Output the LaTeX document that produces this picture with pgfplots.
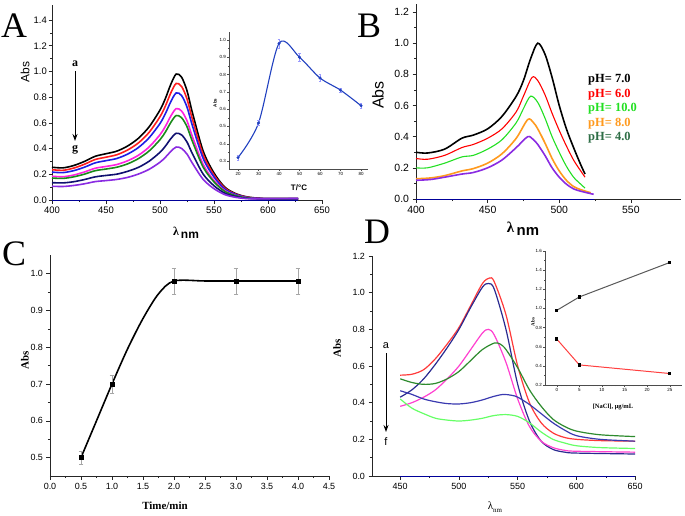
\documentclass[border=0pt]{standalone}
\usepackage{fontspec}
\setmainfont{Liberation Sans}
\newfontfamily\tnr{Liberation Serif}
\usepackage{pgfplots}
\pgfplotsset{compat=1.18}
\usetikzlibrary{arrows.meta}
\definecolor{aRed}{HTML}{FF1E1E}
\definecolor{aBlue}{HTML}{1E1EE6}
\definecolor{aMag}{HTML}{FF20E0}
\definecolor{aGreen}{HTML}{1A8A1A}
\definecolor{aNavy}{HTML}{101070}
\definecolor{aPurp}{HTML}{8A2BE2}
\definecolor{bGreen}{HTML}{22E022}
\definecolor{bOrange}{HTML}{FF9A1E}
\definecolor{bPurp}{HTML}{8A2BE2}
\definecolor{bDkGreen}{HTML}{2E6E46}
\definecolor{dRed}{HTML}{FF3A3A}
\definecolor{dNavy}{HTML}{2A2A90}
\definecolor{dMag}{HTML}{FF40D0}
\definecolor{dGreen}{HTML}{2E8B2E}
\definecolor{dBlue}{HTML}{3A3AB0}
\definecolor{dLGreen}{HTML}{66FF66}
\definecolor{inBlue}{HTML}{2040C0}
\pgfplotsset{
  orig/.style={scale only axis, anchor=south west,
    axis x line*=bottom, axis y line*=left, tick align=outside,
    axis line style={line width=0.8pt, black!85},
    every tick/.style={black!85, line width=0.6pt},
    major tick length=3.5bp, minor tick length=2bp,
    /pgf/number format/assume math mode=true, clip=false},
  onedec/.style={yticklabel style={/pgf/number format/fixed, /pgf/number format/fixed zerofill, /pgf/number format/precision=1}},
  onedecx/.style={xticklabel style={/pgf/number format/fixed, /pgf/number format/fixed zerofill, /pgf/number format/precision=1}},
}
\begin{document}
\begin{tikzpicture}
\path[use as bounding box, fill=white] (0,0) rectangle (685bp,-516bp);

% ---------------- Panel A ----------------
\begin{axis}[orig, at={(52bp,-200bp)}, width=270bp, height=195.4bp,
  xmin=400, xmax=650, ymin=0, ymax=1.52,
  xtick={400,450,...,650}, ytick={0,0.2,...,1.4}, minor x tick num=1, minor y tick num=1,
  onedec, tick label style={font=\fontsize{9.5}{11}\selectfont},
  yticklabel style={/tikz/inner sep=1.5pt}]
\addplot[blue!60!black, line width=0.8pt] coordinates {(400,0)(628,0)};
\addplot[smooth, black, line width=1.6pt] coordinates {(400,0.255)(410,0.250)(420,0.268)(430,0.300)(440,0.340)(450,0.360)(460,0.380)(470,0.420)(480,0.480)(490,0.570)(500,0.700)(505,0.790)(510,0.900)(515,0.980)(520,0.955)(525,0.850)(530,0.680)(540,0.380)(550,0.210)(560,0.100)(570,0.050)(580,0.025)(590,0.015)(600,0.010)(628,0.010)};
\addplot[smooth, aRed, line width=1.6pt] coordinates {(400,0.236)(410,0.231)(420,0.248)(430,0.278)(440,0.315)(450,0.333)(460,0.352)(470,0.389)(480,0.444)(490,0.527)(500,0.648)(505,0.731)(510,0.833)(515,0.907)(520,0.883)(525,0.786)(530,0.629)(540,0.352)(550,0.194)(560,0.093)(570,0.046)(580,0.023)(590,0.014)(600,0.010)(628,0.010)};
\addplot[smooth, aBlue, line width=1.6pt] coordinates {(400,0.217)(410,0.213)(420,0.228)(430,0.255)(440,0.289)(450,0.306)(460,0.323)(470,0.357)(480,0.408)(490,0.485)(500,0.595)(505,0.672)(510,0.765)(515,0.833)(520,0.812)(525,0.723)(530,0.578)(540,0.323)(550,0.179)(560,0.085)(570,0.043)(580,0.021)(590,0.013)(600,0.010)(628,0.010)};
\addplot[smooth, aMag, line width=1.6pt] coordinates {(400,0.185)(410,0.181)(420,0.194)(430,0.218)(440,0.247)(450,0.261)(460,0.276)(470,0.305)(480,0.348)(490,0.413)(500,0.508)(505,0.573)(510,0.653)(515,0.711)(520,0.692)(525,0.616)(530,0.493)(540,0.276)(550,0.152)(560,0.073)(570,0.036)(580,0.018)(590,0.011)(600,0.010)(628,0.010)};
\addplot[smooth, aGreen, line width=1.6pt] coordinates {(400,0.171)(410,0.168)(420,0.180)(430,0.201)(440,0.228)(450,0.241)(460,0.255)(470,0.281)(480,0.322)(490,0.382)(500,0.469)(505,0.529)(510,0.603)(515,0.657)(520,0.640)(525,0.570)(530,0.456)(540,0.255)(550,0.141)(560,0.067)(570,0.034)(580,0.017)(590,0.010)(600,0.010)(628,0.010)};
\addplot[smooth, aNavy, line width=1.6pt] coordinates {(400,0.135)(410,0.133)(420,0.142)(430,0.159)(440,0.180)(450,0.191)(460,0.201)(470,0.223)(480,0.254)(490,0.302)(500,0.371)(505,0.419)(510,0.477)(515,0.519)(520,0.506)(525,0.451)(530,0.360)(540,0.201)(550,0.111)(560,0.053)(570,0.027)(580,0.013)(590,0.010)(600,0.010)(628,0.010)};
\addplot[smooth, aPurp, line width=1.6pt] coordinates {(400,0.107)(410,0.105)(420,0.113)(430,0.126)(440,0.143)(450,0.151)(460,0.160)(470,0.176)(480,0.202)(490,0.239)(500,0.294)(505,0.332)(510,0.378)(515,0.412)(520,0.401)(525,0.357)(530,0.286)(540,0.160)(550,0.088)(560,0.042)(570,0.021)(580,0.011)(590,0.010)(600,0.010)(628,0.012)};
\end{axis}

% inset A
\begin{axis}[orig, at={(229bp,-169bp)}, width=139bp, height=137bp,
  xmin=15.6, xmax=83.4, ymin=0.254, ymax=1.046,
  xtick={20,30,...,80}, ytick={0.3,0.4,...,1.0}, minor x tick num=1, minor y tick num=1,
  major tick length=2bp, minor tick length=1bp,
  axis line style={line width=0.5pt, black!70}, every tick/.style={black!70, line width=0.4pt},
  onedec, tick label style={font=\fontsize{4.5}{5}\selectfont, /tikz/inner sep=1pt}]
\addplot[smooth, inBlue, line width=1.1pt] coordinates {(20,0.32)(30,0.52)(40,0.98)(50,0.90)(60,0.78)(70,0.71)(80,0.62)};
\addplot[only marks, mark=*, mark size=1.3pt, inBlue, error bars/.cd, y dir=both, y explicit,
  error bar style={blue!40, line width=0.4pt}] coordinates {(20,0.32)+-(0,0.015)(30,0.52)+-(0,0.015)(40,0.98)+-(0,0.025)(50,0.90)+-(0,0.022)(60,0.78)+-(0,0.02)(70,0.71)+-(0,0.012)(80,0.62)+-(0,0.012)};
\end{axis}

% ---------------- Panel B ----------------
\begin{axis}[orig, at={(416bp,-199bp)}, width=265bp, height=194.8bp,
  xmin=400, xmax=585, ymin=0, ymax=1.25,
  xtick={400,450,...,550}, ytick={0,0.2,...,1.2}, minor x tick num=1, minor y tick num=1,
  onedec, tick label style={font=\fontsize{10.5}{12}\selectfont}]
\addplot[blue!60!black, line width=0.8pt] coordinates {(400,0)(524,0)};
\addplot[smooth, black, line width=1.6pt] coordinates {(400,0.30)(408,0.295)(420,0.32)(432,0.39)(440,0.41)(450,0.45)(460,0.53)(470,0.66)(475,0.76)(480,0.90)(485,1.00)(490,0.93)(495,0.78)(500,0.60)(505,0.45)(510,0.33)(515,0.22)(518,0.16)};
\addplot[smooth, red, line width=1.1pt] coordinates {(400,0.26)(408,0.255)(420,0.28)(432,0.33)(440,0.35)(450,0.39)(460,0.45)(470,0.56)(475,0.66)(481,0.78)(485,0.76)(490,0.67)(495,0.55)(500,0.44)(505,0.34)(510,0.25)(515,0.18)(518,0.14)};
\addplot[smooth, bGreen, line width=1.1pt] coordinates {(400,0.20)(408,0.20)(420,0.23)(432,0.27)(440,0.28)(450,0.32)(460,0.38)(470,0.49)(475,0.58)(480,0.66)(485,0.62)(490,0.52)(495,0.40)(500,0.30)(505,0.21)(510,0.14)(515,0.095)(518,0.07)};
\addplot[smooth, bOrange, line width=1.6pt] coordinates {(400,0.13)(410,0.135)(420,0.15)(432,0.18)(440,0.195)(450,0.23)(460,0.29)(470,0.39)(478,0.51)(482,0.49)(485,0.45)(490,0.36)(495,0.26)(500,0.18)(505,0.12)(510,0.08)(515,0.06)(522,0.04)};
\addplot[smooth, bPurp, line width=1.6pt] coordinates {(400,0.12)(410,0.125)(420,0.14)(432,0.16)(440,0.17)(450,0.20)(460,0.25)(470,0.33)(478,0.40)(482,0.38)(485,0.35)(490,0.28)(495,0.20)(500,0.14)(505,0.095)(510,0.065)(515,0.05)(524,0.03)};
\end{axis}

% ---------------- Panel C ----------------
\begin{axis}[orig, at={(50bp,-476bp)}, width=279bp, height=220.8bp,
  xmin=0, xmax=4.5, ymin=0.45, ymax=1.05,
  xtick={0,0.5,...,4.5}, ytick={0.5,0.6,...,1.0}, minor x tick num=1, minor y tick num=1,
  onedec, onedecx, tick label style={font=\fontsize{9}{11}\selectfont}]
\addplot[smooth, black, line width=1.6pt] coordinates {(0.5,0.50)(0.75,0.60)(1.0,0.70)(1.25,0.795)(1.5,0.878)(1.75,0.945)(2.0,0.98)(2.5,0.98)(3.0,0.98)(3.5,0.98)(4.0,0.98)};
\addplot[only marks, mark=square*, mark size=2pt, black, error bars/.cd, y dir=both, y explicit,
  error bar style={gray!70, line width=0.6pt}, error mark options={rotate=90, mark size=2.5pt, gray!70, line width=0.6pt}] coordinates {(0.5,0.50)+-(0,0.018)(1.0,0.70)+-(0,0.025)(2,0.98)+-(0,0.035)(3,0.98)+-(0,0.035)(4,0.98)+-(0,0.035)};
\end{axis}

% ---------------- Panel D ----------------
\begin{axis}[orig, at={(372bp,-476bp)}, width=263.2bp, height=220bp,
  xmin=426, xmax=650, ymin=0, ymax=1.2,
  xtick={450,500,...,650}, ytick={0,0.2,...,1.2}, minor x tick num=1, minor y tick num=1,
  onedec, tick label style={font=\fontsize{9}{11}\selectfont}]
\addplot[blue!60!black, line width=0.6pt] coordinates {(450,0)(650,0)};
\addplot[smooth, dRed, line width=1.2pt] coordinates {(450,0.55)(460,0.555)(470,0.58)(480,0.64)(490,0.72)(500,0.81)(510,0.93)(520,1.05)(526,1.08)(530,1.06)(540,0.88)(550,0.60)(560,0.40)(570,0.29)(580,0.235)(590,0.21)(600,0.20)(620,0.193)(650,0.19)};
\addplot[smooth, dNavy, line width=1.2pt] coordinates {(450,0.43)(460,0.47)(470,0.53)(480,0.61)(490,0.70)(500,0.80)(510,0.92)(520,1.03)(525,1.05)(530,1.02)(540,0.80)(550,0.50)(560,0.30)(570,0.19)(580,0.145)(590,0.13)(600,0.125)(650,0.12)};
\addplot[smooth, dMag, line width=1.2pt] coordinates {(450,0.38)(460,0.40)(470,0.43)(480,0.47)(490,0.53)(500,0.60)(510,0.69)(520,0.78)(525,0.80)(530,0.77)(540,0.62)(550,0.42)(560,0.27)(570,0.19)(580,0.155)(590,0.14)(600,0.135)(650,0.13)};
\addplot[smooth, dGreen, line width=1.2pt] coordinates {(450,0.53)(460,0.51)(470,0.50)(480,0.505)(490,0.53)(500,0.57)(510,0.63)(520,0.69)(530,0.725)(535,0.72)(540,0.69)(550,0.59)(560,0.47)(570,0.38)(580,0.31)(590,0.27)(600,0.245)(620,0.225)(650,0.215)};
\addplot[smooth, dBlue, line width=1.2pt] coordinates {(450,0.465)(460,0.445)(470,0.42)(480,0.405)(490,0.395)(500,0.393)(510,0.40)(520,0.415)(530,0.435)(538,0.445)(545,0.44)(550,0.43)(560,0.39)(570,0.34)(580,0.29)(590,0.25)(600,0.22)(620,0.20)(650,0.19)};
\addplot[smooth, dLGreen, line width=1.2pt] coordinates {(450,0.42)(460,0.37)(470,0.34)(480,0.315)(490,0.305)(500,0.30)(510,0.305)(520,0.315)(530,0.33)(540,0.335)(550,0.325)(560,0.29)(570,0.24)(580,0.20)(590,0.18)(600,0.165)(620,0.155)(650,0.15)};
\end{axis}

% inset D
\begin{axis}[orig, at={(545bp,-385bp)}, width=137.4bp, height=134bp,
  xmin=-2.6, xmax=27.8, ymin=0.2, ymax=1.6,
  xtick={0,5,...,25}, ytick={0.2,0.4,...,1.6}, minor x tick num=4, minor y tick num=1,
  major tick length=2bp, minor tick length=1bp,
  axis line style={line width=0.5pt, black!70}, every tick/.style={black!70, line width=0.4pt},
  onedec, tick label style={font=\fontsize{4.5}{5}\selectfont, /tikz/inner sep=1pt}]
\addplot[black!65, line width=1pt, mark=square*, mark size=1.2pt, mark options={black}] coordinates {(0,0.98)(5,1.12)(25,1.48)};
\addplot[red!75, line width=1pt, mark=square*, mark size=1.2pt, mark options={black}] coordinates {(0,0.68)(5,0.41)(25,0.32)};
\end{axis}

% ---------------- Texts ----------------
\node[font=\tnr\fontsize{36}{36}\selectfont] at (14bp,-26bp) {A};
\node[font=\tnr\fontsize{36}{36}\selectfont] at (369bp,-26bp) {B};
\node[font=\tnr\fontsize{36}{36}\selectfont] at (14bp,-254bp) {C};
\node[font=\tnr\fontsize{36}{36}\selectfont] at (377bp,-232bp) {D};

\node[rotate=90, font=\fontsize{12}{12}\selectfont] at (25bp,-72bp) {Abs};
\node[font=\bfseries\fontsize{12}{12}\selectfont] at (186bp,-233bp) {\tnr λ\raisebox{-2.5bp}{\rmfamily\,nm}};
\node[font=\tnr\bfseries\fontsize{12}{12}\selectfont] at (75bp,-64bp) {a};
\node[font=\tnr\bfseries\fontsize{12}{12}\selectfont] at (75bp,-150bp) {g};
\draw[-{Stealth[length=7bp,width=5bp]}, line width=1pt] (75bp,-71bp) -- (75bp,-141bp);
\node[rotate=90, font=\bfseries\fontsize{4.5}{5}\selectfont] at (215bp,-103bp) {Abs};
\node[font=\bfseries\fontsize{8}{8}\selectfont] at (299bp,-188bp) {T/°C};

\node[rotate=90, font=\fontsize{16}{16}\selectfont] at (378bp,-95bp) {Abs};
\node[font=\bfseries\fontsize{15}{15}\selectfont] at (523bp,-229bp) {\tnr λ\raisebox{-3bp}{\rmfamily\,nm}};
\begin{scope}[every node/.style={anchor=west, font=\tnr\bfseries\fontsize{12.5}{13}\selectfont, inner sep=0pt}]
\node[text=black] at (588bp,-80bp) {pH= 7.0};
\node[text=red] at (588bp,-95bp) {pH= 6.0};
\node[text=bGreen] at (588bp,-109bp) {pH= 10.0};
\node[text=bOrange] at (588bp,-124bp) {pH= 8.0};
\node[text=bDkGreen] at (588bp,-138bp) {pH= 4.0};
\end{scope}

\node[rotate=90, font=\tnr\bfseries\fontsize{11}{11}\selectfont] at (25bp,-360bp) {Abs};
\node[font=\tnr\bfseries\fontsize{11}{11}\selectfont] at (165bp,-506bp) {Time/min};

\node[rotate=90, font=\tnr\bfseries\fontsize{11}{11}\selectfont] at (337bp,-348bp) {Abs};
\node[font=\fontsize{11}{11}\selectfont] at (495bp,-507bp) {\tnr λ\raisebox{-2.5bp}{\fontsize{7}{7}\selectfont nm}};
\node[font=\fontsize{11}{11}\selectfont] at (386bp,-346bp) {a};
\node[font=\fontsize{11}{11}\selectfont] at (386bp,-442bp) {f};
\draw[-{Stealth[length=7bp,width=5bp]}, line width=1pt] (386bp,-353bp) -- (386bp,-432bp);
\node[rotate=90, font=\tnr\bfseries\fontsize{5}{5}\selectfont] at (533bp,-322bp) {Abs};
\node[font=\tnr\bfseries\fontsize{6.5}{7}\selectfont] at (613bp,-407bp) {[NaCl], μg/mL};
\end{tikzpicture}
\end{document}
